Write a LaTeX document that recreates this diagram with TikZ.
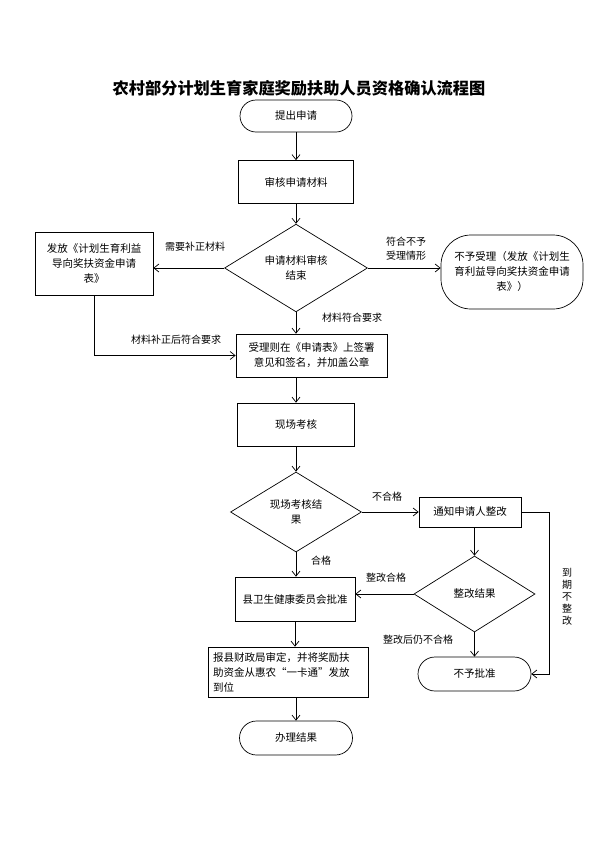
\documentclass[tikz,border=0pt]{standalone}
\usepackage{fontspec}
\setmainfont{Noto Sans CJK SC}
\usetikzlibrary{arrows.meta, positioning, shapes.geometric}
\tikzset{
	procbox/.style={draw, line width=0.7pt, font=\fontsize{10.5}{15}\selectfont, align=center, inner sep=2pt},
	termbox/.style={draw, line width=0.7pt, rounded corners=#1, font=\fontsize{10.5}{15}\selectfont, align=center, inner sep=2pt},
	decbox/.style={draw, diamond, line width=0.7pt, inner sep=0pt, font=\fontsize{10.5}{15}\selectfont, align=center},
	flowarr/.style={-{Straight Barb[length=5pt,width=8pt]}, line width=0.7pt},
	lbl/.style={font=\fontsize{10}{14}\selectfont, align=center},
}

\begin{document}
\begin{tikzpicture}[x=1pt, y=-1pt]
	\useasboundingbox (0,0) rectangle (595,841);

	% Title
	\node[font=\fontsize{16.2}{20}\selectfont\bfseries] (title) at (299,88) {农村部分计划生育家庭奖励扶助人员资格确认流程图};

	% Main column
	\node[termbox=16pt, minimum width=112pt, minimum height=32pt] (start) at (296,116) {提出申请};
	\node[procbox, minimum width=115pt, minimum height=43pt] (check) at (296,182) {审核申请材料};
	\node[decbox, minimum width=143pt, minimum height=80pt] (dia1) at (296,268) {申请材料审核\\结束};
	\node[procbox, minimum width=118pt, minimum height=63pt] (issue) at (94,263.5) {发放《计划生育利益\\导向奖扶资金申请\\表》};
	\node[termbox=30pt, minimum width=142pt, minimum height=74pt] (refuse) at (512,272) {不予受理（发放《计划生\\育利益导向奖扶资金申请\\表》）};
	\node[procbox, minimum width=151pt, minimum height=43pt] (accept) at (311.5,355.5) {受理则在《申请表》上签署\\意见和签名，并加盖公章};
	\node[procbox, minimum width=117pt, minimum height=43pt] (onsite) at (296,424.5) {现场考核};
	\node[decbox, minimum width=131pt, minimum height=80pt] (dia2) at (296,512) {现场考核结\\果};
	\node[procbox, minimum width=102pt, minimum height=30pt] (notify) at (470,512) {通知申请人整改};
	\node[decbox, minimum width=121pt, minimum height=76pt] (dia3) at (474.5,594) {整改结果};
	\node[procbox, minimum width=120pt, minimum height=44pt] (approve) at (295,599) {县卫生健康委员会批准};
	\node[procbox, minimum width=160pt, minimum height=50pt, align=left, text width=150pt] (report) at (288,672) {报县财政局审定，并将奖励扶\\助资金从惠农“一卡通”发放\\到位};
	\node[termbox=17pt, minimum width=113pt, minimum height=34pt] (finish) at (296,738) {办理结果};
	\node[termbox=17pt, minimum width=113pt, minimum height=34pt] (reject) at (474.5,674) {不予批准};

	% Arrows
	\draw[flowarr] (start) -- (check);
	\draw[flowarr] (check) -- (dia1);
	\draw[flowarr] (dia1.west) -- (dia1.west -| issue.east);
	\draw[flowarr] (dia1.east) -- (dia1.east -| refuse.west);
	\draw[flowarr] (dia1.south) -- (dia1.south |- accept.north);
	\draw[flowarr] (issue.south) |- (accept.west);
	\draw[flowarr] (onsite.north |- accept.south) -- (onsite.north);
	\draw[flowarr] (onsite) -- (dia2);
	\draw[flowarr] (dia2.east) -- (notify.west);
	\draw[flowarr] (dia2.south) -- (dia2.south |- approve.north);
	\draw[flowarr] (dia3.north |- notify.south) -- (dia3.north);
	\draw[flowarr] (dia3.west) -- (dia3.west -| approve.east);
	\draw[flowarr] (dia3.south) -- (reject.north);
	\draw[flowarr] (approve.south) -- (approve.south |- report.north);
	\draw[flowarr] (finish.north |- report.south) -- (finish.north);
	\draw[flowarr] (notify.east) -- ++(28,0) |- (reject.east);

	% Labels
	\node[lbl] (l1) at (195,247) {需要补正材料};
	\node[lbl] (l2) at (406,249) {符合不予\\受理情形};
	\node[lbl] (l3) at (352,318) {材料符合要求};
	\node[lbl] (l4) at (176,340) {材料补正后符合要求};
	\node[lbl] (l5) at (387,497) {不合格};
	\node[lbl] (l6) at (321,561) {合格};
	\node[lbl] (l7) at (386,578) {整改合格};
	\node[lbl] (l8) at (418,640) {整改后仍不合格};
	\node[lbl, font=\fontsize{10}{12}\selectfont] (l9) at (567,597) {到\\期\\不\\整\\改};
\end{tikzpicture}
\end{document}
